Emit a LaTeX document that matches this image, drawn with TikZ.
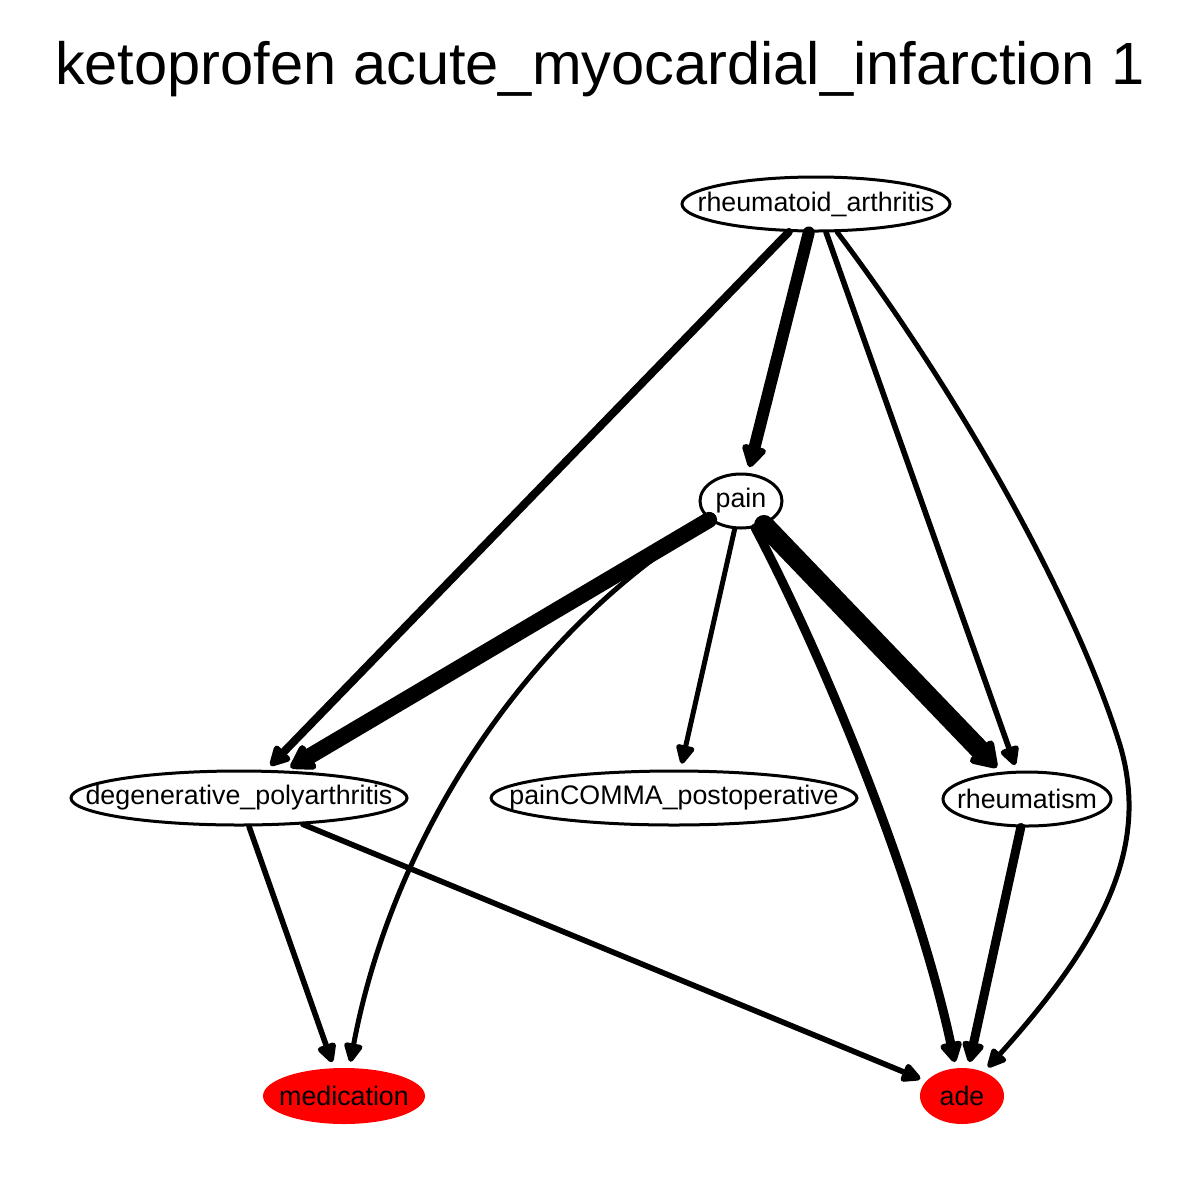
\documentclass[tikz,border=0pt]{standalone}
\usepackage{fontspec}
\setmainfont{Liberation Sans}
\usetikzlibrary{shapes.geometric,arrows.meta}
\newcommand{\labfont}{\fontsize{13.4pt}{16pt}\selectfont}
\newcommand{\titlefont}{\fontsize{29.8pt}{34pt}\selectfont}
\tikzset{
  nd/.style={ellipse, draw, line width=1.5pt, inner sep=0pt, minimum height=27pt},
  rednd/.style={ellipse, fill=red, inner sep=0pt, minimum height=28pt},
  lab/.style={font=\labfont, inner sep=0pt},
  edge/.style={line cap=round, -{Triangle[length=10pt 0.4,width=7.5pt 1,round]}, shorten >=3pt},
}
\begin{document}
\begin{tikzpicture}[x=0.5pt,y=-0.5pt]
\useasboundingbox (0,0) rectangle (1200,1200);
\node[font=\titlefont, anchor=base, inner sep=0pt] (title) at (600,84) {ketoprofen acute\_myocardial\_infarction 1};

\node[nd, minimum width=134pt, label={[lab]center:rheumatoid\_arthritis}] (ra) at (816,204) {};
\node[nd, minimum width=41pt, label={[lab]center:pain}] (pain) at (741,501) {};
\node[nd, minimum width=168pt, label={[lab]center:degenerative\_polyarthritis}] (deg) at (239,798) {};
\node[nd, minimum width=183pt, label={[lab]center:painCOMMA\_postoperative}] (post) at (674,798) {};
\node[nd, minimum width=84pt, label={[lab]center:rheumatism}] (rheum) at (1027,799) {};
\node[rednd, minimum width=81pt, label={[lab]center:medication}] (med) at (344,1096) {};
\node[rednd, minimum width=42pt, label={[lab]center:ade}] (ade) at (962,1096) {};

\coordinate (k1) at (1120,745);

\draw[edge, line width=6pt] (ra) -- (pain);
\draw[edge, line width=4pt] (ra) -- (deg);
\draw[edge, line width=2.8pt] (ra) -- (rheum);
\draw[edge, line width=2.5pt] (ra) .. controls (960,395) and (1075,600) .. (k1)
   .. controls (1148,840) and (1112,930) .. (ade);
\draw[edge, line width=8pt] (pain) -- (deg);
\draw[edge, line width=2.5pt] (pain) .. controls (515,640) and (390,850) .. (med);
\draw[edge, line width=2.5pt] (pain) -- (post);
\draw[edge, line width=10pt] (pain) -- (rheum);
\draw[edge, line width=4.5pt] (pain) .. controls (835,680) and (920,900) .. (ade);
\draw[edge, line width=2.8pt] (deg) -- (med);
\draw[edge, line width=2.8pt] (deg) -- (ade);
\draw[edge, line width=4.5pt] (rheum) -- (ade);
\end{tikzpicture}
\end{document}
